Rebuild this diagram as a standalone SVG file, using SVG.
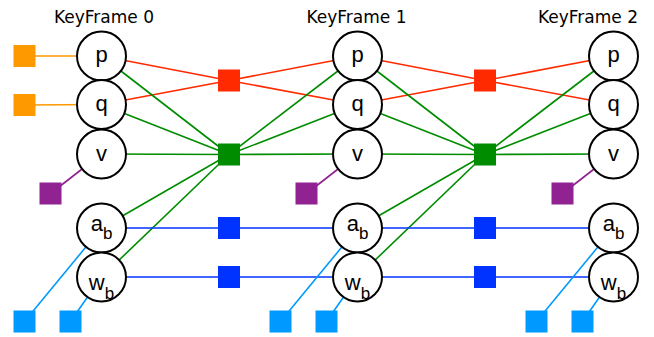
<svg xmlns="http://www.w3.org/2000/svg" width="654" height="337" viewBox="0 0 654 337">
<style>
.title{font-family:"DejaVu Sans",sans-serif;font-size:17px;fill:#000;text-anchor:middle}
.var circle{fill:#fff;stroke:#000;stroke-width:2}
.var text{font-family:"Liberation Sans",Arial,sans-serif;font-size:22px;fill:#000;text-anchor:middle}
.var tspan.sub{font-size:17px}
.edges line{stroke-width:1.6;fill:none}
.or{stroke:#ff9900}.rd{stroke:#ff2a00}.gr{stroke:#008c00}.bl{stroke:#0033ff}.lb{stroke:#0099ff}.pu{stroke:#912291}
.f-or{fill:#ff9900}.f-rd{fill:#ff2a00}.f-gr{fill:#008c00}.f-bl{fill:#0033ff}.f-lb{fill:#0099ff}.f-pu{fill:#912291}
</style>
<rect width="654" height="337" fill="#fff"/>
<g id="titles">
<text class="title" x="104" y="23.3">KeyFrame 0</text>
<text class="title" x="356.5" y="23.3">KeyFrame 1</text>
<text class="title" x="588" y="23.3">KeyFrame 2</text>
</g>
<g id="connectors" class="edges">
<line class="or" x1="24.5" y1="56" x2="101.5" y2="56"/>
<line class="or" x1="24.5" y1="105" x2="101.5" y2="104.5"/>
<line class="rd" x1="229" y1="80.5" x2="101.5" y2="56"/>
<line class="rd" x1="229" y1="80.5" x2="101.5" y2="104.5"/>
<line class="rd" x1="229" y1="80.5" x2="357.5" y2="56"/>
<line class="rd" x1="229" y1="80.5" x2="357.5" y2="104.5"/>
<line class="rd" x1="485" y1="80.5" x2="357.5" y2="56"/>
<line class="rd" x1="485" y1="80.5" x2="357.5" y2="104.5"/>
<line class="rd" x1="485" y1="80.5" x2="613.5" y2="56"/>
<line class="rd" x1="485" y1="80.5" x2="613.5" y2="104.5"/>
<line class="gr" x1="229" y1="154.5" x2="101.5" y2="56"/>
<line class="gr" x1="229" y1="154.5" x2="101.5" y2="104.5"/>
<line class="gr" x1="229" y1="154.5" x2="101.5" y2="154"/>
<line class="gr" x1="229" y1="154.5" x2="101.5" y2="228"/>
<line class="gr" x1="229" y1="154.5" x2="101.5" y2="277"/>
<line class="gr" x1="229" y1="154.5" x2="357.5" y2="56"/>
<line class="gr" x1="229" y1="154.5" x2="357.5" y2="104.5"/>
<line class="gr" x1="229" y1="154.5" x2="357.5" y2="154"/>
<line class="gr" x1="485" y1="154.5" x2="357.5" y2="56"/>
<line class="gr" x1="485" y1="154.5" x2="357.5" y2="104.5"/>
<line class="gr" x1="485" y1="154.5" x2="357.5" y2="154"/>
<line class="gr" x1="485" y1="154.5" x2="357.5" y2="228"/>
<line class="gr" x1="485" y1="154.5" x2="357.5" y2="277"/>
<line class="gr" x1="485" y1="154.5" x2="613.5" y2="56"/>
<line class="gr" x1="485" y1="154.5" x2="613.5" y2="104.5"/>
<line class="gr" x1="485" y1="154.5" x2="613.5" y2="154"/>
<line class="bl" x1="101.5" y1="228" x2="613.5" y2="228"/>
<line class="bl" x1="101.5" y1="277" x2="613.5" y2="277"/>
<line class="pu" x1="50.5" y1="193.5" x2="101.5" y2="154"/>
<line class="pu" x1="306.5" y1="193.5" x2="357.5" y2="154"/>
<line class="pu" x1="562.5" y1="193.5" x2="613.5" y2="154"/>
<line class="lb" x1="24.5" y1="321.5" x2="101.5" y2="228"/>
<line class="lb" x1="70.5" y1="321.5" x2="101.5" y2="277"/>
<line class="lb" x1="280.5" y1="321.5" x2="357.5" y2="228"/>
<line class="lb" x1="326.5" y1="321.5" x2="357.5" y2="277"/>
<line class="lb" x1="536.5" y1="321.5" x2="613.5" y2="228"/>
<line class="lb" x1="582.5" y1="321.5" x2="613.5" y2="277"/>
</g>
<g id="factors">
<g id="prior-p0"><rect class="f-or" x="13.5" y="45" width="22" height="22"/></g>
<g id="prior-q0"><rect class="f-or" x="13.5" y="94" width="22" height="22"/></g>
<g id="rel-pq-01"><rect class="f-rd" x="218" y="69.5" width="22" height="22"/></g>
<g id="rel-pq-12"><rect class="f-rd" x="474" y="69.5" width="22" height="22"/></g>
<g id="imu-01"><rect class="f-gr" x="218" y="143.5" width="22" height="22"/></g>
<g id="imu-12"><rect class="f-gr" x="474" y="143.5" width="22" height="22"/></g>
<g id="ab-01"><rect class="f-bl" x="218" y="217" width="22" height="22"/></g>
<g id="wb-01"><rect class="f-bl" x="218" y="266" width="22" height="22"/></g>
<g id="ab-12"><rect class="f-bl" x="474" y="217" width="22" height="22"/></g>
<g id="wb-12"><rect class="f-bl" x="474" y="266" width="22" height="22"/></g>
<g id="v-prior0"><rect class="f-pu" x="39.5" y="182.5" width="22" height="22"/></g>
<g id="v-prior1"><rect class="f-pu" x="295.5" y="182.5" width="22" height="22"/></g>
<g id="v-prior2"><rect class="f-pu" x="551.5" y="182.5" width="22" height="22"/></g>
<g id="ab-prior0"><rect class="f-lb" x="13.5" y="310.5" width="22" height="22"/></g>
<g id="wb-prior0"><rect class="f-lb" x="59.5" y="310.5" width="22" height="22"/></g>
<g id="ab-prior1"><rect class="f-lb" x="269.5" y="310.5" width="22" height="22"/></g>
<g id="wb-prior1"><rect class="f-lb" x="315.5" y="310.5" width="22" height="22"/></g>
<g id="ab-prior2"><rect class="f-lb" x="525.5" y="310.5" width="22" height="22"/></g>
<g id="wb-prior2"><rect class="f-lb" x="571.5" y="310.5" width="22" height="22"/></g>
</g>
<g id="variables">
<g id="p0" class="var"><circle cx="101.5" cy="56" r="24.5"/><text x="101.5" y="62">p</text></g>
<g id="q0" class="var"><circle cx="101.5" cy="104.5" r="24.5"/><text x="101.5" y="110.5">q</text></g>
<g id="v0" class="var"><circle cx="101.5" cy="154" r="24.5"/><text x="101.5" y="160.5">v</text></g>
<g id="ab0" class="var"><circle cx="101.5" cy="228" r="24.5"/><text x="101.5" y="231">a<tspan class="sub" dy="8">b</tspan></text></g>
<g id="wb0" class="var"><circle cx="101.5" cy="277" r="24.5"/><text x="101.5" y="290">w<tspan class="sub" dy="9">b</tspan></text></g>
<g id="p1" class="var"><circle cx="357.5" cy="56" r="24.5"/><text x="357.5" y="62">p</text></g>
<g id="q1" class="var"><circle cx="357.5" cy="104.5" r="24.5"/><text x="357.5" y="110.5">q</text></g>
<g id="v1" class="var"><circle cx="357.5" cy="154" r="24.5"/><text x="357.5" y="160.5">v</text></g>
<g id="ab1" class="var"><circle cx="357.5" cy="228" r="24.5"/><text x="357.5" y="231">a<tspan class="sub" dy="8">b</tspan></text></g>
<g id="wb1" class="var"><circle cx="357.5" cy="277" r="24.5"/><text x="357.5" y="290">w<tspan class="sub" dy="9">b</tspan></text></g>
<g id="p2" class="var"><circle cx="613.5" cy="56" r="24.5"/><text x="613.5" y="62">p</text></g>
<g id="q2" class="var"><circle cx="613.5" cy="104.5" r="24.5"/><text x="613.5" y="110.5">q</text></g>
<g id="v2" class="var"><circle cx="613.5" cy="154" r="24.5"/><text x="613.5" y="160.5">v</text></g>
<g id="ab2" class="var"><circle cx="613.5" cy="228" r="24.5"/><text x="613.5" y="231">a<tspan class="sub" dy="8">b</tspan></text></g>
<g id="wb2" class="var"><circle cx="613.5" cy="277" r="24.5"/><text x="613.5" y="290">w<tspan class="sub" dy="9">b</tspan></text></g>
</g>
</svg>
